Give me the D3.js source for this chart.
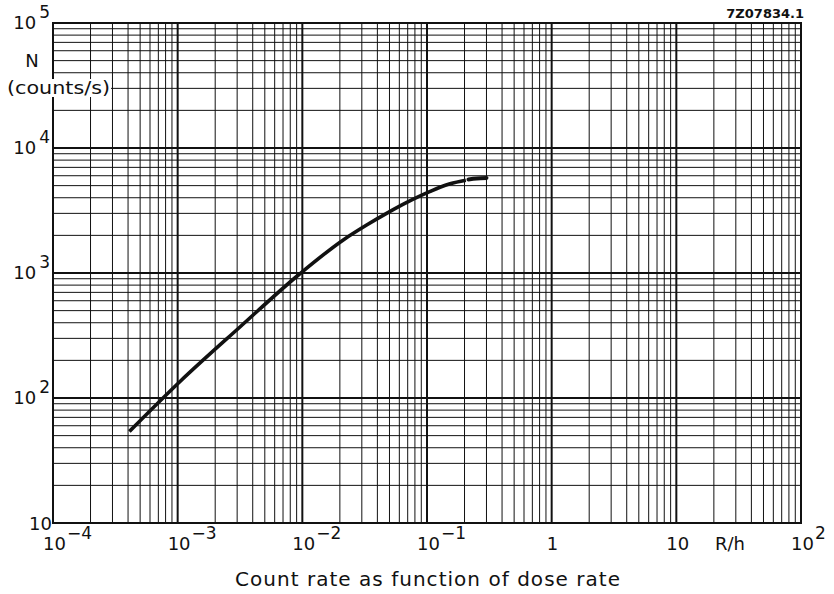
<!DOCTYPE html>
<html>
<head>
<meta charset="utf-8">
<script src="https://cdn.jsdelivr.net/npm/d3@7"></script>
<style>
  html, body { margin: 0; padding: 0; background: #fff; }
  svg { display: block; }
  text { font-family: "DejaVu Sans", sans-serif; fill: #111; }
</style>
</head>
<body>
<svg id="chart" width="834" height="594"></svg>
<script>
// dose rate (R/h) vs count rate (counts/s)
const doseMain  = [4.1e-4, 1.04e-3, 3.16e-3, 9.3e-3, 0.0213, 0.0328, 0.0474, 0.0708, 0.105, 0.127, 0.153, 0.205];
const countMain = [54, 135, 370, 964, 1840, 2420, 3000, 3720, 4470, 4850, 5180, 5530];
// short piece after the little gap at the end
const doseTail  = [0.215, 0.25, 0.30];
const countTail = [5600, 5700, 5760];

const xTickVals = [1e-4, 1e-3, 1e-2, 1e-1, 1, 10, 100];
const xTickBase = ['10', '10', '10', '10', '1', '10', '10'];
const xTickExp  = ['\u22124', '\u22123', '\u22122', '\u22121', '', '', '2'];
const yTickVals = [10, 100, 1000, 1e4, 1e5];
const yTickExp  = ['', '2', '3', '4', '5'];

const svg = d3.select('#chart');
const ink = '#111';

const x = d3.scaleLog().domain([1e-4, 1e2]).range([53, 801]);
const y = d3.scaleLog().domain([10, 1e5]).range([523, 23]);

const isMajor = v => Math.abs(Math.log10(v) - Math.round(Math.log10(v))) < 1e-9;

// grid
const grid = svg.append('g');
grid.selectAll('line.vx')
  .data(x.ticks())
  .join('line')
  .attr('x1', d => x(d)).attr('x2', d => x(d))
  .attr('y1', y.range()[0]).attr('y2', y.range()[1])
  .attr('stroke', ink)
  .attr('stroke-width', d => isMajor(d) ? 2 : 1);

grid.selectAll('line.hy')
  .data(y.ticks())
  .join('line')
  .attr('y1', d => y(d)).attr('y2', d => y(d))
  .attr('x1', x.range()[0]).attr('x2', x.range()[1])
  .attr('stroke', ink)
  .attr('stroke-width', d => isMajor(d) ? 2 : 1);

svg.append('rect')
  .attr('x', x.range()[0]).attr('y', y.range()[1])
  .attr('width', x.range()[1] - x.range()[0])
  .attr('height', y.range()[0] - y.range()[1])
  .attr('fill', 'none').attr('stroke', ink).attr('stroke-width', 2);

// curve
const line = d3.line()
  .x(d => x(d[0])).y(d => y(d[1]))
  .curve(d3.curveMonotoneX);

svg.append('path')
  .datum(d3.zip(doseMain, countMain))
  .attr('d', line)
  .attr('fill', 'none').attr('stroke', ink)
  .attr('stroke-width', 3.6).attr('stroke-linecap', 'butt');

svg.append('path')
  .datum(d3.zip(doseTail, countTail))
  .attr('d', line)
  .attr('fill', 'none').attr('stroke', ink)
  .attr('stroke-width', 4).attr('stroke-linecap', 'round');

// x tick labels: base centred on the line, exponent raised to the right
const xl = svg.append('g');
xTickVals.forEach((v, i) => {
  const t = xl.append('text')
    .attr('x', x(v) - (xTickBase[i] === '1' ? 5 : 10))
    .attr('y', 550)
    .attr('font-size', 18);
  t.append('tspan').text(xTickBase[i]);
  if (xTickExp[i]) {
    t.append('tspan').attr('dx', 1).attr('dy', -11).attr('font-size', 17).text(xTickExp[i]);
  }
});

svg.append('text')
  .attr('x', 715).attr('y', 550)
  .attr('font-size', 18)
  .text('R/h');

// y tick labels
const yl = svg.append('g');
yTickVals.forEach((v, i) => {
  const t = yl.append('text')
    .attr('text-anchor', 'end')
    .attr('x', yTickExp[i] ? 50 : 52)
    .attr('y', yTickExp[i] ? y(v) + 6 : y(v) + 7)
    .attr('font-size', 18);
  t.append('tspan').text('10');
  if (yTickExp[i]) {
    t.append('tspan').attr('dx', 3).attr('dy', -11).attr('font-size', 17).text(yTickExp[i]);
  }
});

// y axis title
svg.append('text')
  .attr('x', 32).attr('y', 67)
  .attr('text-anchor', 'middle')
  .attr('font-size', 18)
  .text('N');

const unit = svg.append('text')
  .attr('x', 7).attr('y', 94)
  .attr('font-size', 17)
  .attr('textLength', 103)
  .attr('lengthAdjust', 'spacingAndGlyphs')
  .text('(counts/s)');
const ub = unit.node().getBBox();
svg.insert('rect', function() { return unit.node(); })
  .attr('x', ub.x).attr('y', ub.y + 1)
  .attr('width', ub.width + 1).attr('height', ub.height - 2)
  .attr('fill', '#fff');

// figure code
svg.append('text')
  .attr('x', 804).attr('y', 18)
  .attr('text-anchor', 'end')
  .attr('font-size', 13)
  .attr('font-weight', 'bold')
  .text('7Z07834.1');

// caption
svg.append('text')
  .attr('x', 235).attr('y', 586)
  .attr('font-size', 20)
  .attr('textLength', 385)
  .attr('lengthAdjust', 'spacing')
  .text('Count rate as function of dose rate');
</script>
</body>
</html>
